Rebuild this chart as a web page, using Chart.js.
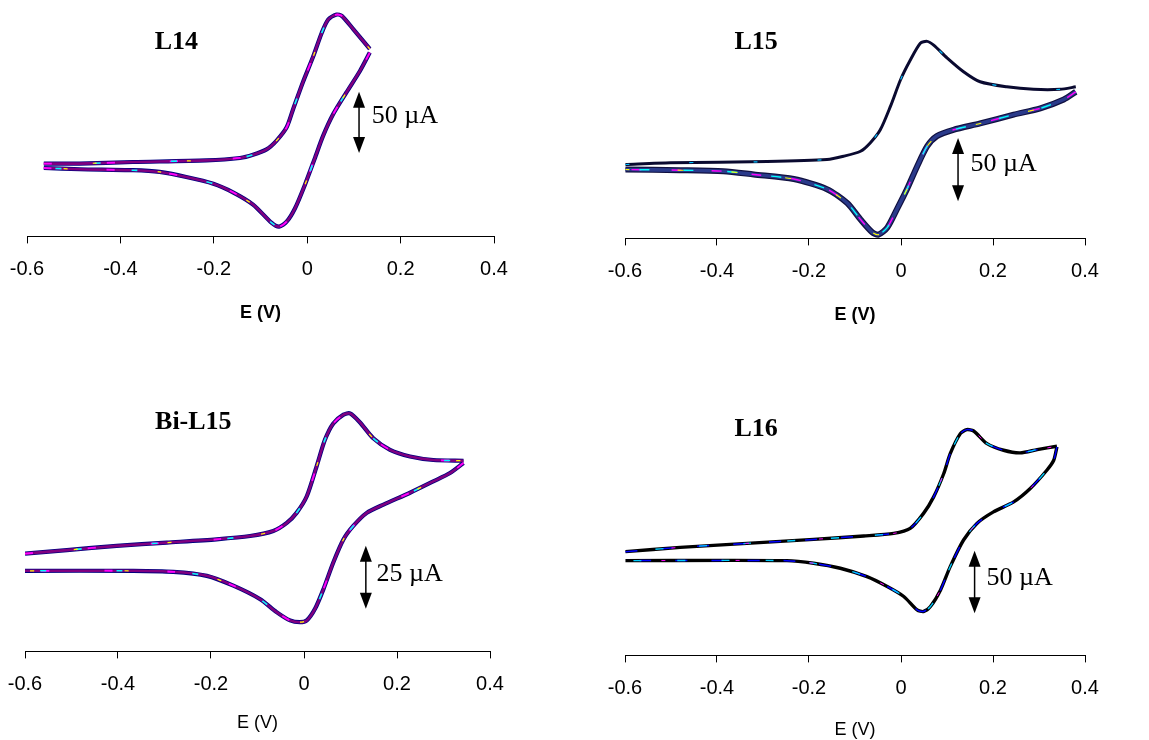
<!DOCTYPE html>
<html>
<head>
<meta charset="utf-8">
<script src="https://cdn.jsdelivr.net/npm/chart.js@4.4.1/dist/chart.umd.min.js"></script>
<style>
  html, body { margin: 0; padding: 0; background: #fff; }
  #wrap { position: relative; width: 1149px; height: 740px; overflow: hidden; background: #fff; }
  canvas { position: absolute; }
</style>
</head>
<body>
<div id="wrap">
  <canvas id="cvL14" width="535" height="324" style="left:-7px;top:0px"></canvas>
  <canvas id="cvL15" width="528" height="326" style="left:591px;top:0px"></canvas>
  <canvas id="cvBiL15" width="533" height="345" style="left:-9px;top:389px"></canvas>
  <canvas id="cvL16" width="528" height="352" style="left:591px;top:389px"></canvas>
</div>
<script>
// Cyclic voltammograms, potential E (V) against current (uA, axis hidden)
const panelNames = ['L14', 'L15', 'Bi-L15', 'L16'];
const scaleBarUA = [50, 50, 25, 50];
const xTicks = [-0.6, -0.4, -0.2, 0, 0.2, 0.4];

// L14
const l14FwdE = [-0.564, -0.487, -0.373, -0.216, -0.144, -0.116, -0.087, -0.066, -0.044, -0.03, -0.009, 0.013, 0.031, 0.045, 0.063, 0.074, 0.099, 0.134];
const l14FwdI = [1.4, 1.4, 2.7, 4, 6, 8.6, 13, 20, 31, 46, 68, 89, 108, 119, 123, 122, 111, 95];
const l14RevE = [0.134, 0.113, 0.084, 0.056, 0.034, 0.016, -0.005, -0.026, -0.044, -0.06, -0.076, -0.116, -0.159, -0.201, -0.259, -0.316, -0.373, -0.487, -0.564];
const l14RevI = [92, 77, 59.5, 42, 24, 5.4, -16, -35, -46, -50, -47, -32, -22, -15, -9.5, -5.4, -4, -3.2, -2.2];

// L15
const l15FwdE = [-0.599, -0.501, -0.291, -0.161, -0.125, -0.088, -0.067, -0.045, -0.023, -0.001, 0.02, 0.042, 0.057, 0.071, 0.1, 0.136, 0.172, 0.23, 0.288, 0.346, 0.38];
const l15FwdI = [-0.5, 0.8, 1.8, 3.4, 6, 10, 16.6, 27, 45.5, 66.6, 82, 95.5, 97, 94, 84, 73, 65, 61, 59, 59, 61];
const l15RevE = [0.38, 0.354, 0.303, 0.245, 0.172, 0.114, 0.078, 0.057, 0.035, 0.013, -0.009, -0.03, -0.049, -0.063, -0.088, -0.117, -0.161, -0.233, -0.32, -0.386, -0.48, -0.599];
const l15RevI = [57, 51, 44, 39, 32, 27, 22, 14, -2, -20, -36, -50.5, -56, -54, -44, -31, -20, -12, -8.4, -5.8, -5, -4.5];

// Bi-L15
const biL15FwdE = [-0.6, -0.51, -0.403, -0.295, -0.188, -0.116, -0.066, -0.037, -0.016, 0.006, 0.027, 0.045, 0.063, 0.085, 0.099, 0.12, 0.149, 0.185, 0.228, 0.278, 0.343];
const biL15FwdI = [6.8, 8.2, 9.9, 11.2, 12.5, 13.8, 15.8, 19, 23, 29.6, 41.4, 52, 58.5, 62, 62.5, 59, 52.6, 48, 45.4, 44, 43.7];
const biL15RevE = [0.343, 0.314, 0.278, 0.228, 0.171, 0.135, 0.106, 0.085, 0.063, 0.042, 0.024, 0.006, -0.009, -0.03, -0.059, -0.095, -0.152, -0.209, -0.281, -0.367, -0.6];
const biL15RevI = [42.8, 38.8, 35.5, 31, 26.3, 23, 17.8, 12.5, 3.3, -7.2, -15, -19.7, -20.4, -19.7, -16.4, -11.2, -5.9, -2, -0.4, 0, 0];

// L16
const l16FwdE = [-0.599, -0.48, -0.335, -0.19, -0.081, -0.016, 0.02, 0.049, 0.071, 0.093, 0.107, 0.129, 0.143, 0.158, 0.187, 0.223, 0.259, 0.296, 0.339];
const l16FwdI = [7.2, 10.6, 13.8, 17, 19.7, 21.8, 25.8, 37.8, 51, 69.7, 85.6, 101.6, 104.8, 103.7, 93.6, 88.3, 86.2, 88.8, 91.5];
const l16RevE = [0.339, 0.332, 0.317, 0.281, 0.245, 0.201, 0.165, 0.136, 0.107, 0.086, 0.064, 0.049, 0.035, 0.006, -0.03, -0.074, -0.132, -0.19, -0.248, -0.599];
const l16RevI = [91, 80.3, 72.3, 57.7, 47, 39, 29.8, 16.5, -4.8, -23.4, -36.7, -40.7, -39.4, -28.7, -20.7, -12.8, -6.1, -2.1, 0, 0];

// overlapping scans drawn as stacked coloured strokes
const purpleScans = [
  { c: '#000080', w: 4.2 },
  { c: '#800080', w: 2.6 },
  { c: '#ff00ff', w: 1.8, dash: [8, 55] },
  { c: '#00ffff', w: 1.6, dash: [6, 70], off: 25 },
  { c: '#ffff00', w: 1.2, dash: [4, 90], off: 45 }
];
const darkScans = [
  { c: '#0a0a30', w: 3 },
  { c: '#00bfff', w: 1.2, dash: [4, 60] }
];
const bandScans = [
  { c: '#101040', w: 6 },
  { c: '#2a3a8a', w: 3.6 },
  { c: '#ff00ff', w: 1.4, dash: [10, 30] },
  { c: '#00ffff', w: 1.4, dash: [10, 34], off: 16 },
  { c: '#ffff00', w: 1.1, dash: [6, 48], off: 8 }
];
const blackScans = [
  { c: '#000000', w: 3.4 },
  { c: '#0000ff', w: 1.5, dash: [12, 24] },
  { c: '#00ccff', w: 1.3, dash: [8, 36], off: 14 },
  { c: '#ff00ff', w: 1, dash: [4, 70], off: 28 }
];

const sansFont = "'Liberation Sans', Arial, sans-serif";
const serifFont = "'Liberation Serif', 'Times New Roman', serif";

const cvNotes = {
  id: 'cvNotes',
  afterDatasetsDraw(chart, args, o) {
    const { ctx } = chart;
    const x = chart.scales.x, y = chart.scales.y;
    ctx.save();
    ctx.fillStyle = '#000';
    ctx.strokeStyle = '#000';
    ctx.textBaseline = 'middle';
    ctx.textAlign = 'center';
    ctx.font = 'bold 26px ' + serifFont;
    ctx.fillText(o.name, x.getPixelForValue(o.nameE), y.getPixelForValue(o.nameI));

    // scale bar: double arrow spanning o.bar uA
    const ax = x.getPixelForValue(o.barE);
    const yb = y.getPixelForValue(o.barLow);
    const yt = y.getPixelForValue(o.barLow + o.bar);
    const head = 16, half = 6;
    ctx.lineWidth = 1.5;
    ctx.beginPath();
    ctx.moveTo(ax, yt + head - 2);
    ctx.lineTo(ax, yb - head + 2);
    ctx.stroke();
    ctx.beginPath();
    ctx.moveTo(ax, yt);
    ctx.lineTo(ax - half, yt + head);
    ctx.lineTo(ax + half, yt + head);
    ctx.closePath();
    ctx.fill();
    ctx.beginPath();
    ctx.moveTo(ax, yb);
    ctx.lineTo(ax - half, yb - head);
    ctx.lineTo(ax + half, yb - head);
    ctx.closePath();
    ctx.fill();

    ctx.textAlign = 'left';
    ctx.font = '26px ' + serifFont;
    ctx.fillText(o.bar + ' \u00b5A', x.getPixelForValue(o.labelE), y.getPixelForValue(o.labelI));
    ctx.restore();
  }
};

function branch(es, is) {
  return es.map((e, i) => ({ x: e, y: is[i] }));
}

function layerSets(points, layers) {
  return layers.map((l, k) => ({
    data: points,
    showLine: true,
    fill: false,
    borderColor: l.c,
    borderWidth: l.w,
    borderDash: l.dash || [],
    borderDashOffset: l.off || 0,
    pointRadius: 0,
    tension: 0.25,
    order: layers.length - k
  }));
}

function makeChart(id, p) {
  const fwd = branch(p.fwdE, p.fwdI);
  const rev = branch(p.revE, p.revI);
  new Chart(document.getElementById(id), {
    type: 'scatter',
    data: { datasets: [...layerSets(fwd, p.fwdLayers), ...layerSets(rev, p.revLayers)] },
    options: {
      responsive: false,
      animation: false,
      events: [],
      layout: { padding: { left: 34, right: 34, top: 6, bottom: 0 } },
      plugins: {
        legend: { display: false },
        tooltip: { enabled: false },
        cvNotes: p.notes
      },
      scales: {
        x: {
          type: 'linear',
          min: xTicks[0],
          max: xTicks[xTicks.length - 1],
          afterBuildTicks: s => { s.ticks = xTicks.map(v => ({ value: v })); },
          ticks: {
            color: '#000',
            padding: 14,
            maxRotation: 0,
            font: { family: sansFont, size: 20 },
            callback: v => (Math.abs(v) < 1e-9 ? '0' : String(+v.toFixed(1)))
          },
          grid: { drawOnChartArea: false, drawTicks: true, tickLength: 7, color: '#000', lineWidth: 1 },
          border: { color: '#000', width: 1 },
          title: {
            display: true,
            text: 'E (V)',
            color: '#000',
            font: { family: sansFont, size: 18, weight: p.titleBold ? 'bold' : 'normal' },
            padding: { top: p.titlePad, bottom: 0 }
          }
        },
        y: { display: false, min: p.yMin, max: p.yMax }
      }
    },
    plugins: [cvNotes]
  });
}

makeChart('cvL14', {
  fwdE: l14FwdE, fwdI: l14FwdI, revE: l14RevE, revI: l14RevI,
  fwdLayers: purpleScans, revLayers: purpleScans,
  yMin: -58, yMax: 130, titleBold: true, titlePad: 7,
  notes: { name: panelNames[0], nameE: -0.28, nameI: 100, bar: scaleBarUA[0], barE: 0.111, barLow: 10, labelE: 0.138, labelI: 40 }
});

makeChart('cvL15', {
  fwdE: l15FwdE, fwdI: l15FwdI, revE: l15RevE, revI: l15RevI,
  fwdLayers: darkScans, revLayers: bandScans,
  yMin: -59, yMax: 125, titleBold: true, titlePad: 7,
  notes: { name: panelNames[1], nameE: -0.315, nameI: 96, bar: scaleBarUA[1], barE: 0.124, barLow: -29.5, labelE: 0.151, labelI: -0.5 }
});

makeChart('cvBiL15', {
  fwdE: biL15FwdE, fwdI: biL15FwdI, revE: biL15RevE, revI: biL15RevI,
  fwdLayers: purpleScans, revLayers: purpleScans,
  yMin: -32, yMax: 69.8, titleBold: false, titlePad: 2,
  notes: { name: panelNames[2], nameE: -0.238, nameI: 59, bar: scaleBarUA[2], barE: 0.133, barLow: -15.1, labelE: 0.156, labelI: -1.3 }
});

makeChart('cvL16', {
  fwdE: l16FwdE, fwdI: l16FwdI, revE: l16RevE, revI: l16RevI,
  fwdLayers: blackScans, revLayers: blackScans,
  yMin: -75.8, yMax: 132.5, titleBold: false, titlePad: 5,
  notes: { name: panelNames[3], nameE: -0.315, nameI: 104.8, bar: scaleBarUA[3], barE: 0.16, barLow: -42, labelE: 0.186, labelI: -14 }
});
</script>
</body>
</html>
